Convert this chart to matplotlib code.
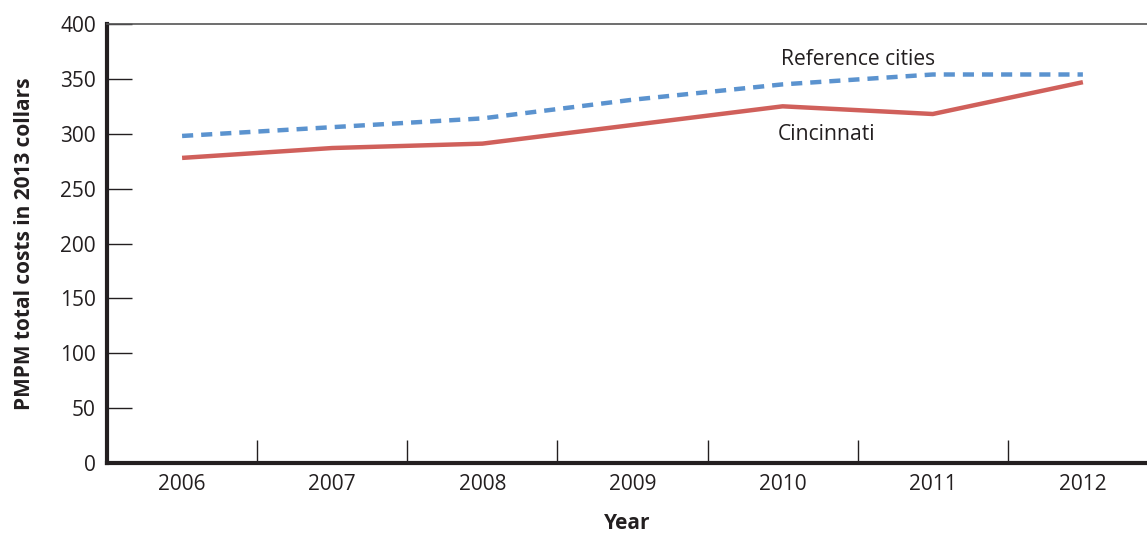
import matplotlib.pyplot as plt

plt.rcParams['font.family'] = ['Open Sans', 'DejaVu Sans']

years = ['2006', '2007', '2008', '2009', '2010', '2011', '2012']
reference_cities = [298, 306, 314, 331, 345, 354, 354]
cincinnati = [278, 287, 291, 308, 325, 318, 347]
y_ticks = [0, 50, 100, 150, 200, 250, 300, 350, 400]

dark = '#231f20'
red = '#d0605b'
blue = '#5b93cf'

fig = plt.figure(figsize=(11.47, 5.36), dpi=100)
ax = fig.add_axes([0.0933, 0.1362, 0.9067, 0.819])

x = list(range(len(years)))
ax.plot(x, reference_cities, color=blue, lw=3.2, dashes=(2.5, 1.8),
        solid_capstyle='butt', dash_capstyle='butt')
ax.plot(x, cincinnati, color=red, lw=3.2, solid_capstyle='butt')

ax.text(4.5, 368, 'Reference cities', ha='center', va='center',
        fontsize=15.2, color=dark)
ax.text(3.97, 299, 'Cincinnati', ha='left', va='center',
        fontsize=15.2, color=dark)

ax.set_xlim(-0.5, 6.427)
ax.set_ylim(0, 400)

# year labels sit under categories, tick marks sit between them
ax.set_xticks([i + 0.5 for i in x[:-1]])
ax.set_xticklabels([])
ax.set_xticks(x, minor=True)
ax.set_xticklabels(years, minor=True, fontsize=15, color=dark)
ax.tick_params(axis='x', which='major', direction='in', length=16.5,
               width=1, color=dark)
ax.tick_params(axis='x', which='minor', length=0, pad=8)

ax.set_yticks(y_ticks)
ax.set_yticklabels([str(v) for v in y_ticks], fontsize=15, color=dark)
ax.tick_params(axis='y', direction='in', length=18, width=1,
               color=dark, pad=8)

for side in ['left', 'bottom']:
    ax.spines[side].set_linewidth(3)
    ax.spines[side].set_color(dark)
ax.spines['top'].set_linewidth(1.2)
ax.spines['top'].set_color('#555555')
ax.spines['right'].set_visible(False)

ax.set_xlabel('Year', fontsize=15, fontweight='bold', color=dark, labelpad=13)
ax.set_ylabel('PMPM total costs in 2013 collars', fontsize=15,
              fontweight='bold', color=dark, labelpad=18)

fig.savefig('out.png', dpi=100)
